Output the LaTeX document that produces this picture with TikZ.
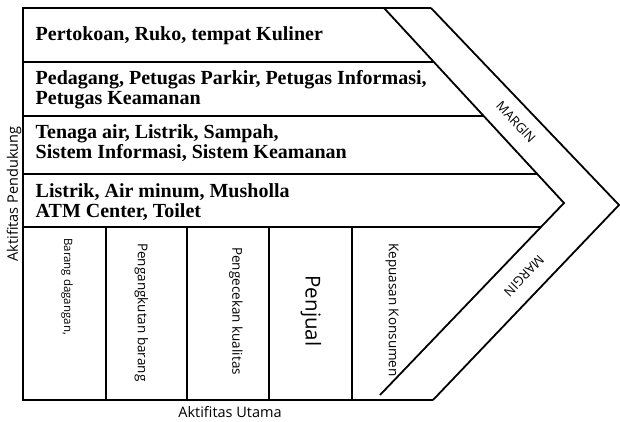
\documentclass[tikz,border=0pt]{standalone}
\usepackage{fontspec}
\setmainfont{Liberation Serif}
\newfontfamily\labelfont{Open Sans}
\begin{document}
\begin{tikzpicture}[x=1pt,y=-1pt,
  frame/.style={line width=2.4pt},
  sepline/.style={line width=2pt},
  colline/.style={line width=1.4pt},
  chevron/.style={line width=1.8pt, line join=miter},
  rowtext/.style={anchor=west, align=left, inner sep=0pt,
    font=\bfseries\fontsize{20}{20}\selectfont},
  coltext/.style={rotate=-90, anchor=west, inner sep=0pt,
    font=\labelfont\fontsize{13.5}{15}\selectfont},
  axislabel/.style={inner sep=0pt, font=\labelfont\fontsize{14.5}{16}\selectfont},
  marginlabel/.style={inner sep=0pt, font=\labelfont\fontsize{13}{15}\selectfont}]
\useasboundingbox (0,0) rectangle (620,422);
\fill[white] (0,0) rectangle (620,422);

% outer frame: left side, top and bottom
\draw[frame] (23,8) -- (23,400);
\draw[frame] (21.8,8) -- (431,8);
\draw[frame] (21.8,400) -- (433,400);

% chevron band on the right
\draw[chevron] (384,8) -- (564,203) -- (380,395);
\draw[chevron] (431,8) -- (619,205) -- (433,400);

% separators between the support rows
\draw[sepline] (23,62) -- (433.8,62);
\draw[sepline] (23,116) -- (483.7,116);
\draw[sepline] (23,174) -- (537.2,174);
\draw[sepline] (23,227) -- (541,227);

% columns of the primary activities
\foreach \cx in {106,187,269,352}
  \draw[colline] (\cx,227) -- (\cx,400);

% support activities
\node[rowtext] (r1) at (35.5,36) {Pertokoan, Ruko, tempat Kuliner};
\node[rowtext] (r2) at (35.5,89.3) {Pedagang, Petugas Parkir, Petugas Informasi,\\Petugas Keamanan};
\node[rowtext] (r3) at (35.5,143.3) {Tenaga air, Listrik, Sampah,\\Sistem Informasi, Sistem Keamanan};
\node[rowtext] (r4) at (35.5,202.3) {Listrik, Air minum, Musholla\\ATM Center, Toilet};

% primary activities
\node[coltext, font=\labelfont\fontsize{11.5}{13}\selectfont] (c1) at (67,238) {Barang dagangan,};
\node[coltext] (c2) at (141.5,243) {Pengangkutan barang};
\node[coltext] (c3) at (236,247) {Pengecekan kualitas};
\node[coltext, anchor=center, font=\labelfont\fontsize{20.5}{22}\selectfont] (c4) at (311,311) {Penjual};
\node[coltext] (c5) at (392,243) {Kepuasan Konsumen};

% axis labels
\node[axislabel, rotate=90] (side) at (14,194) {Aktifitas Pendukung};
\node[axislabel] (base) at (230,412) {Aktifitas Utama};

% margin labels inside the chevron
\node[marginlabel, rotate=-47.3] (m1) at (516,122) {MARGIN};
\node[marginlabel, rotate=-134.1] (m2) at (524,276) {MARGIN};
\end{tikzpicture}
\end{document}
